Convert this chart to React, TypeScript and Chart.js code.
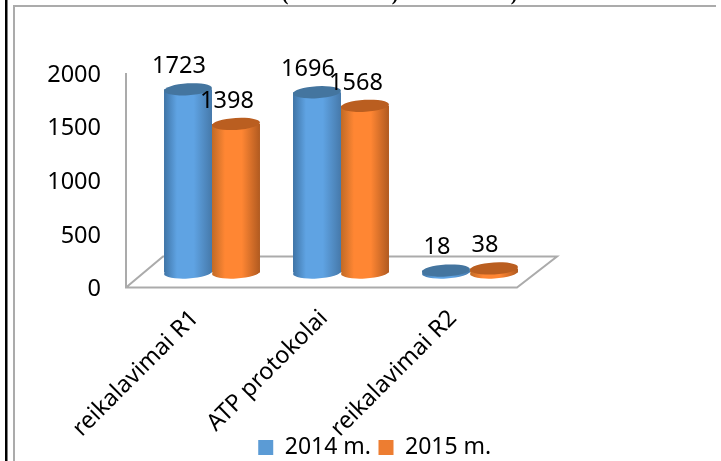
import React, { useEffect, useRef } from "react";
import { Chart, registerables } from "chart.js";

Chart.register(...registerables);

const categories = ["reikalavimai R1", "ATP protokolai", "reikalavimai R2"];
const series2014 = [1723, 1696, 18];
const series2015 = [1398, 1568, 38];
const seriesNames = ["2014 m.", "2015 m."];
const yTicks = [0, 500, 1000, 1500, 2000];
const clippedTitle = [
  { text: "(", x: 285 },
  { text: ")", x: 395 },
  { text: ")", x: 514 },
];

const FONT = '"Noto Sans", sans-serif';
const legendColors = ["#5B9BD5", "#ED7D31"];
const sideStops = [
  ["#3F74A6", "#5FA3E3", "#5FA3E3", "#4679AA"],
  ["#C06A26", "#FF8633", "#FF8633", "#B05A20"],
];
const topColors = ["#44759F", "#BA5E20"];
const AXIS = "#ABABAB";

const scene = {
  id: "scene",
  afterLayout(chart: any) {
    chart.scales.x.bottom = chart.height;
    chart.legend.left += 93;
    chart.legend.right += 93;
  },
  beforeDraw(chart: any) {
    const { ctx, width, height } = chart;
    ctx.save();
    ctx.fillStyle = "#fff";
    ctx.fillRect(0, 0, width, height);
    ctx.fillStyle = "#000";
    ctx.font = `bold 20px "Liberation Serif", serif`;
    ctx.textAlign = "center";
    ctx.textBaseline = "alphabetic";
    clippedTitle.forEach((t) => ctx.fillText(t.text, t.x, 0));
    ctx.fillStyle = "#000";
    ctx.fillRect(5, 0, 2.5, height);
    ctx.fillStyle = AXIS;
    ctx.fillRect(13, 5, 703, 2);
    ctx.fillRect(13, 5, 2, height - 5);
    ctx.restore();
  },
  beforeDatasetsDraw(chart: any) {
    const { ctx } = chart;
    const a = chart.chartArea;
    const l = a.left - 21.5;
    const front = a.bottom - 2;
    ctx.save();
    ctx.strokeStyle = AXIS;
    ctx.lineWidth = 2;
    ctx.beginPath();
    ctx.moveTo(l, a.top - 2);
    ctx.lineTo(l, front);
    ctx.lineTo(l + 391, front);
    ctx.lineTo(l + 431, front - 31);
    ctx.lineTo(l + 37, front - 31);
    ctx.lineTo(l, front);
    ctx.stroke();
    ctx.restore();
    chart.data.datasets.forEach((_: any, i: number) => {
      chart.getDatasetMeta(i).data.forEach((el: any) => {
        const left = el.x - el.width / 2;
        const g = ctx.createLinearGradient(left, 0, left + el.width, 0);
        const s = sideStops[i];
        g.addColorStop(0, s[0]);
        g.addColorStop(0.27, s[1]);
        g.addColorStop(0.62, s[2]);
        g.addColorStop(1, s[3]);
        el.options = Object.assign({}, el.options, { backgroundColor: g });
      });
    });
  },
  afterDatasetDraw(chart: any, args: any) {
    const { ctx } = chart;
    const i = args.index;
    ctx.save();
    args.meta.data.forEach((el: any) => {
      const rx = el.width / 2;
      ctx.fillStyle = el.options.backgroundColor;
      ctx.beginPath();
      ctx.ellipse(el.x, el.base, rx, 6, -0.06, 0, Math.PI * 2);
      ctx.fill();
      ctx.fillStyle = topColors[i];
      ctx.beginPath();
      ctx.ellipse(el.x, el.y, rx, 6, -0.06, 0, Math.PI * 2);
      ctx.fill();
    });
    ctx.restore();
  },
  afterDatasetsDraw(chart: any) {
    const { ctx } = chart;
    ctx.save();
    ctx.fillStyle = "#000";
    ctx.font = `23.5px ${FONT}`;
    ctx.textAlign = "center";
    ctx.textBaseline = "middle";
    chart.data.datasets.forEach((ds: any, i: number) => {
      chart.getDatasetMeta(i).data.forEach((el: any, j: number) => {
        ctx.fillText(String(ds.data[j]), el.x - 9, el.y - 23);
      });
    });
    ctx.restore();
  },
};

export default function App() {
  const ref = useRef<HTMLCanvasElement>(null);
  useEffect(() => {
    const chart = new Chart(ref.current!, {
      type: "bar",
      data: {
        labels: categories,
        datasets: [
          { label: seriesNames[0], data: series2014, yAxisID: "bars", backgroundColor: legendColors[0], borderWidth: 0, categoryPercentage: 0.744, barPercentage: 1 },
          { label: seriesNames[1], data: series2015, yAxisID: "bars", backgroundColor: legendColors[1], borderWidth: 0, categoryPercentage: 0.744, barPercentage: 1 },
        ],
      },
      options: {
        animation: false,
        responsive: false,
        devicePixelRatio: 1,
        layout: { padding: { top: 75, left: 29, right: 186.5, bottom: -8 } },
        plugins: {
          tooltip: { enabled: false },
          legend: {
            position: "bottom",
            onClick: () => {},
            labels: {
              boxWidth: 15,
              boxHeight: 15,
              padding: 7.5,
              color: "#000",
              font: { family: FONT, size: 23 },
            },
          },
        },
        scales: {
          x: {
            grid: { display: false, drawTicks: false },
            border: { display: false },
            afterFit: (s: any) => { s.height = 139; },
            ticks: {
              autoSkip: false,
              maxRotation: 45,
              minRotation: 45,
              padding: 15,
              labelOffset: -17,
              color: "#000",
              font: { family: FONT, size: 23.5 },
            },
          },
          y: {
            position: "left",
            min: 0,
            max: 2000,
            afterBuildTicks: (s: any) => { s.ticks = yTicks.map((value) => ({ value })); },
            afterFit: (s: any) => { s.width = 118.5; },
            grid: { display: false, drawTicks: false },
            border: { display: false },
            ticks: {
              padding: 46.5,
              color: "#000",
              font: { family: FONT, size: 23.5 },
              callback: (v: any) => String(v),
            },
          },
          bars: {
            display: false,
            position: "left",
            min: -160,
            max: 1858,
          },
        },
      } as any,
      plugins: [scene],
    });
    return () => chart.destroy();
  }, []);
  return (
    <canvas
      ref={ref}
      width={721}
      height={461}
      style={{ position: "fixed", left: 0, top: 0, width: 721, height: 461, display: "block" }}
    />
  );
}
